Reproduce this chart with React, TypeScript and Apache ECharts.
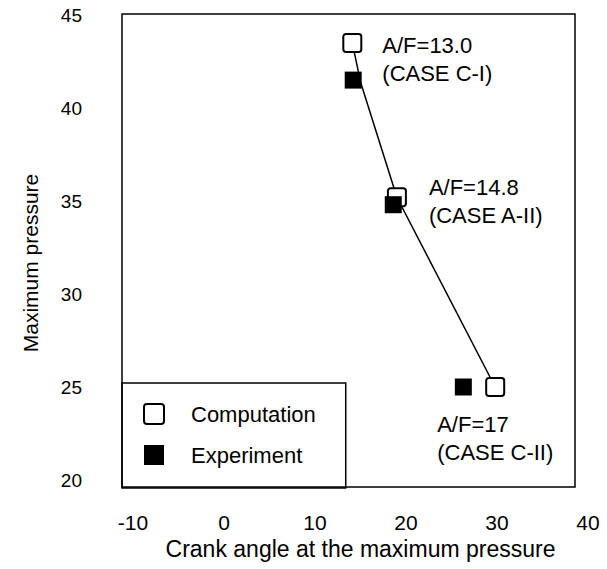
import React, { useEffect, useRef } from "react";
import * as echarts from "echarts";

const X_MIN = -10;
const X_MAX = 40;
const X_STEP = 10;
const Y_MIN = 20;
const Y_MAX = 45;
const Y_STEP = 5;

const seriesNames = ["Computation", "Experiment"];
const computation = [
  [14.1, 43.5],
  [19.0, 35.2],
  [29.8, 25.0],
];
const experiment = [
  [14.2, 41.5],
  [18.6, 34.8],
  [26.3, 25.0],
];
const fitLine = [
  [14.1, 43.5],
  [15.0, 41.4],
  [19.0, 35.2],
  [29.8, 25.0],
];
const caseLabels = [
  "A/F=13.0\n(CASE C-I)",
  "A/F=14.8\n(CASE A-II)",
  "A/F=17\n(CASE C-II)",
];
const xTitle = "Crank angle at the maximum pressure";
const yTitle = "Maximum pressure";

const FONT = "'Liberation Sans', Arial, sans-serif";
const INK = "#000";
const OPEN_SQUARE =
  "path://M3,0H17A3,3 0 0 1 20,3V17A3,3 0 0 1 17,20H3A3,3 0 0 1 0,17V3A3,3 0 0 1 3,0Z";

export default function App() {
  const ref = useRef<HTMLDivElement>(null);

  useEffect(() => {
    if (!ref.current) return;
    const chart = echarts.init(ref.current, undefined, { renderer: "svg" });
    const labelOffsets = [
      [15, 17],
      [17, 4],
      [-73, 51],
    ];
    const option = {
      animation: false,
      backgroundColor: "#ffffff",
      textStyle: { fontFamily: FONT, color: INK },
      grid: [
        {
          left: 122,
          top: 14,
          width: 453,
          height: 473,
          show: true,
          borderColor: INK,
          borderWidth: 1.5,
          backgroundColor: "transparent",
        },
        { left: 133, top: 15, width: 455, height: 465 },
      ],
      xAxis: [
        { gridIndex: 0, type: "value", min: 0, max: 1, show: false },
        {
          gridIndex: 1,
          type: "value",
          min: X_MIN,
          max: X_MAX,
          interval: X_STEP,
          axisLine: { show: false },
          axisTick: { show: false },
          splitLine: { show: false },
          axisLabel: { fontSize: 21, margin: 32, color: INK, fontFamily: FONT },
          name: xTitle,
          nameLocation: "middle",
          nameGap: 56,
          nameTextStyle: { fontSize: 23, color: INK, fontFamily: FONT },
        },
      ],
      yAxis: [
        { gridIndex: 0, type: "value", min: 0, max: 1, show: false },
        {
          gridIndex: 1,
          type: "value",
          min: Y_MIN,
          max: Y_MAX,
          interval: Y_STEP,
          axisLine: { show: false },
          axisTick: { show: false },
          splitLine: { show: false },
          axisLabel: { fontSize: 19, margin: 51, color: INK, fontFamily: FONT },
          name: yTitle,
          nameLocation: "middle",
          nameGap: 92,
          nameTextStyle: {
            fontSize: 21,
            color: INK,
            fontFamily: FONT,
            padding: [0, 31, 0, 0],
          },
        },
      ],
      legend: {
        data: seriesNames,
        orient: "vertical",
        left: 122,
        top: 383,
        padding: [20, 30, 22, 21],
        itemWidth: 20,
        itemHeight: 20,
        itemGap: 19,
        borderColor: INK,
        borderWidth: 1.5,
        borderRadius: 0,
        textStyle: {
          fontSize: 22,
          color: INK,
          fontFamily: FONT,
          padding: [0, 0, 0, 22],
        },
      },
      series: [
        {
          type: "line",
          name: "fit",
          xAxisIndex: 1,
          yAxisIndex: 1,
          data: fitLine,
          showSymbol: false,
          symbol: "none",
          lineStyle: { color: INK, width: 1.5 },
          z: 1,
        },
        {
          type: "scatter",
          name: seriesNames[0],
          xAxisIndex: 1,
          yAxisIndex: 1,
          symbol: OPEN_SQUARE,
          symbolSize: 18,
          itemStyle: {
            color: "#ffffff",
            borderColor: INK,
            borderWidth: 2,
            opacity: 1,
          },
          data: computation.map((d, i) => ({
            value: d,
            label: {
              show: true,
              position: "right",
              offset: labelOffsets[i],
              formatter: caseLabels[i],
              fontSize: 22,
              lineHeight: 28,
              color: INK,
              fontFamily: FONT,
              align: "left",
            },
          })),
          z: 2,
        },
        {
          type: "scatter",
          name: seriesNames[1],
          xAxisIndex: 1,
          yAxisIndex: 1,
          symbol: "rect",
          symbolSize: 17,
          itemStyle: { color: INK, opacity: 1 },
          data: experiment,
          z: 3,
        },
      ],
    };
    chart.setOption(option as any);
    return () => chart.dispose();
  }, []);

  return (
    <div
      ref={ref}
      style={{ position: "fixed", left: 0, top: 0, width: 607, height: 569 }}
    />
  );
}
